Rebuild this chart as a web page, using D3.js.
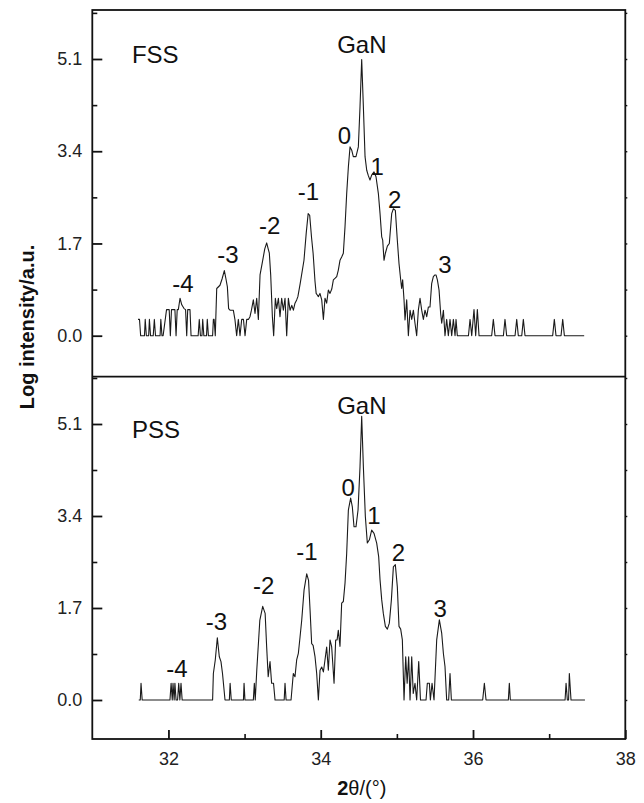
<html>
<head>
<script src="https://d3js.org/d3.v7.min.js"></script>
<style>
	body {margin: 0; background: #fff;}
	svg {display: block;}
</style>
</head>
<body>
<div id="chart"></div>
<script>
// FSS scan: [2theta, log intensity]
var fss = [[31.60,0.30],[31.62,0.30],[31.635,0],[31.685,0],[31.695,0.30],[31.71,0],[31.74,0],[31.75,0.30],[31.765,0],
	[31.80,0],[31.815,0.30],[31.83,0],[31.89,0],[31.90,0.30],[31.915,0],[31.93,0],[31.975,0.48],[32.01,0.48],[32.025,0],
	[32.04,0.48],[32.085,0.48],[32.10,0],[32.115,0.48],[32.13,0.48],[32.152,0.69],[32.175,0.57],[32.205,0.50],[32.225,0.48],
	[32.24,0],[32.253,0.48],[32.283,0.48],[32.297,0],[32.39,0],[32.405,0.30],[32.42,0],[32.44,0],[32.45,0.30],[32.465,0],
	[32.50,0],[32.51,0.30],[32.525,0],[32.58,0],[32.59,0.30],[32.60,0.30],[32.615,0],[32.634,0.87],[32.677,0.93],[32.705,1.05],
	[32.734,1.20],[32.755,1.05],[32.774,0.90],[32.79,0.50],[32.809,0.47],[32.852,0.47],[32.874,0.29],[32.896,0],[32.918,0.30],
	[32.94,0],[32.962,0.30],[32.985,0.30],[33.006,0],[33.028,0.30],[33.05,0.30],[33.071,0.35],[33.09,0.47],[33.115,0.66],
	[33.137,0.41],[33.159,0.69],[33.181,0.30],[33.203,1.12],[33.238,1.39],[33.265,1.60],[33.29,1.71],[33.31,1.60],[33.325,1.52],
	[33.343,1.12],[33.365,0.35],[33.382,0],[33.404,0.69],[33.422,0.50],[33.444,0.69],[33.465,0.35],[33.487,0.69],[33.509,0.47],
	[33.531,0.69],[33.553,0],[33.575,0.69],[33.597,0.47],[33.62,0.56],[33.641,0.47],[33.662,0.60],[33.684,0.66],[33.70,0.72],
	[33.73,0.96],[33.78,1.39],[33.81,1.90],[33.835,2.25],[33.855,2.22],[33.88,1.80],[33.90,1.52],[33.925,1.00],[33.94,0.78],
	[33.955,0.75],[33.969,0.72],[33.99,0.78],[34.013,0.66],[34.035,0.30],[34.056,0.69],[34.078,0.60],[34.10,0.84],[34.122,0.78],
	[34.145,0.86],[34.166,1.03],[34.19,1.06],[34.21,1.09],[34.231,1.21],[34.253,1.39],[34.275,1.45],[34.297,1.52],[34.319,2.01],
	[34.341,2.62],[34.363,3.11],[34.385,3.48],[34.407,3.42],[34.428,3.30],[34.463,3.30],[34.494,3.48],[34.516,4.22],[34.538,5.09],
	[34.56,4.22],[34.582,3.30],[34.604,3.05],[34.625,2.95],[34.647,2.87],[34.669,2.96],[34.70,3.02],[34.726,2.93],[34.757,2.62],
	[34.779,2.25],[34.801,1.82],[34.814,1.76],[34.831,1.39],[34.849,1.52],[34.875,1.65],[34.901,1.70],[34.932,2.25],[34.954,2.34],
	[34.98,2.31],[35.006,1.76],[35.028,1.33],[35.05,1.03],[35.063,0.87],[35.076,1.03],[35.094,0.66],[35.107,0.29],[35.129,0.66],
	[35.151,0],[35.173,0.47],[35.195,0.30],[35.217,0.47],[35.238,0.23],[35.26,0],[35.282,0.47],[35.304,0.69],[35.326,0.47],
	[35.348,0.30],[35.37,0.47],[35.392,0.35],[35.414,0.53],[35.435,0.53],[35.457,0.96],[35.479,1.09],[35.50,1.12],[35.514,1.12],
	[35.532,1.03],[35.554,0.84],[35.575,0.41],[35.589,0.23],[35.611,0.47],[35.632,0],[35.654,0.30],[35.676,0],[35.698,0.30],
	[35.72,0],[35.742,0.30],[35.764,0],[35.777,0.30],[35.794,0],[35.94,0],[35.961,0.30],[35.983,0],[36.013,0.48],[36.035,0],
	[36.057,0.48],[36.079,0],[36.245,0],[36.267,0.30],[36.289,0],[36.399,0],[36.42,0.30],[36.442,0],[36.552,0],[36.574,0.30],
	[36.595,0],[36.64,0],[36.661,0.30],[36.683,0],[37.046,0],[37.068,0.30],[37.09,0],[37.156,0],[37.178,0.30],[37.20,0],[37.46,0]];

// PSS scan
var pss = [[31.61,0],[31.63,0],[31.64,0.31],[31.655,0],[32.02,0],[32.035,0.31],[32.05,0],[32.06,0.31],[32.075,0],[32.085,0.31],
	[32.10,0],[32.12,0],[32.135,0.31],[32.15,0],[32.165,0.31],[32.18,0],[32.58,0],[32.59,0.49],[32.615,0.74],[32.642,1.15],
	[32.668,0.80],[32.69,0.71],[32.71,0.49],[32.743,0],[32.80,0],[32.81,0.31],[32.825,0],[32.985,0],[32.993,0.31],[33.005,0],
	[33.115,0],[33.128,0.31],[33.14,0],[33.16,0.55],[33.20,1.47],[33.238,1.73],[33.27,1.60],[33.29,0.98],[33.31,0.43],
	[33.334,0.71],[33.355,0.31],[33.38,0.31],[33.40,0],[33.52,0],[33.531,0.31],[33.545,0],[33.61,0],[33.64,0.49],[33.662,0.43],
	[33.684,0.74],[33.706,0.86],[33.728,1.16],[33.75,1.47],[33.781,2.03],[33.816,2.33],[33.84,2.21],[33.86,1.66],[33.881,1.04],
	[33.90,1.01],[33.925,0.80],[33.947,0.49],[33.969,0],[33.991,0.55],[34.013,0.61],[34.035,0.52],[34.056,0.74],[34.078,0.98],
	[34.10,0.55],[34.122,1.11],[34.144,0.98],[34.175,0.31],[34.196,1.11],[34.215,1.11],[34.231,1.29],[34.253,0.99],[34.275,1.79],
	[34.297,1.82],[34.319,2.16],[34.341,2.71],[34.363,3.51],[34.393,3.73],[34.415,3.57],[34.437,3.20],[34.463,3.20],[34.49,3.51],
	[34.516,4.31],[34.538,5.24],[34.56,4.31],[34.586,3.39],[34.612,2.90],[34.639,2.96],[34.669,3.14],[34.70,3.08],[34.735,2.90],
	[34.761,2.65],[34.779,2.22],[34.801,1.85],[34.822,1.60],[34.849,1.36],[34.875,1.31],[34.901,1.42],[34.928,1.85],[34.954,2.46],
	[34.98,2.50],[35.006,2.09],[35.028,1.36],[35.05,1.31],[35.072,1.11],[35.094,0],[35.116,0.80],[35.135,0.31],[35.155,0.80],
	[35.173,0],[35.195,0.80],[35.215,0.12],[35.238,0.31],[35.26,0],[35.287,0.71],[35.31,0],[35.383,0],[35.40,0.31],[35.427,0.31],
	[35.44,0],[35.462,0.31],[35.488,0],[35.523,1.11],[35.558,1.48],[35.589,1.23],[35.611,0.86],[35.632,0.62],[35.654,0],[35.68,0],
	[35.698,0.49],[35.716,0],[36.127,0],[36.149,0.31],[36.171,0],[36.464,0],[36.477,0.31],[36.49,0],[37.209,0],[37.222,0.31],
	[37.239,0],[37.255,0],[37.265,0.49],[37.287,0],[37.47,0]];

// peak labels: text, 2theta, log intensity at label baseline
var fssLabels = [["GaN",34.54,5.21],["0",34.31,3.53],["1",34.74,2.96],["2",34.97,2.35],["-1",33.84,2.50],
	["-2",33.33,1.87],["-3",32.78,1.34],["-4",32.19,0.80],["3",35.63,1.15]];
var pssLabels = [["GaN",34.54,5.29],["0",34.36,3.77],["1",34.70,3.25],["2",35.02,2.56],["-1",33.82,2.59],
	["-2",33.25,1.96],["-3",32.63,1.30],["-4",32.11,0.43],["3",35.57,1.53]];

var yMajor = [0, 1.7, 3.4, 5.1];
var yMinor = [-0.85, 0.85, 2.55, 4.25, 5.95];
var xMajor = [32, 34, 36, 38];
var xMinor = [33, 35, 37];

var width = 644, height = 803;
var padL = 92.3, padR = 625.3, padT = 10, padMid = 376.7, padB = 739;
var font = "'Liberation Sans', Arial, sans-serif";

var svg = d3.select("#chart").append("svg")
	.attr("width", width)
	.attr("height", height)
	.style("font-family", font);

var x = d3.scaleLinear().domain([31, 38]).range([padL, padR]);
var yTop = d3.scaleLinear().domain([0, 5.1]).range([335.7, 59]);
var yBot = d3.scaleLinear().domain([0, 5.1]).range([700, 424]);

// frame and divider first, ticks go on top
svg.append("rect")
	.attr("x", padL).attr("y", padT)
	.attr("width", padR - padL).attr("height", padB - padT)
	.attr("fill", "none").attr("stroke", "#111").attr("stroke-width", 1.8);
svg.append("line")
	.attr("x1", padL).attr("x2", padR)
	.attr("y1", padMid).attr("y2", padMid)
	.attr("stroke", "#111").attr("stroke-width", 1.8);

function styleTicks(sel, w) {
	sel.select(".domain").remove();
	sel.selectAll(".tick line")
		.style("stroke", "#111")
		.style("stroke-width", w);
}

function panel(data, y, y0, y1, name, labels) {
	var g = svg.append("g");

	// keep minor ticks inside the panel
	var inPanel = function(v) { return y(v) > y0 + 1 && y(v) < y1 - 1; };

	// left axis, ticks pointing inward
	var ax = g.append("g")
		.attr("transform", "translate(" + padL + ",0)")
		.call(d3.axisLeft(y).tickValues(yMajor).tickSizeInner(-10).tickSizeOuter(0).tickPadding(10)
			.tickFormat(d3.format(".1f")));
	styleTicks(ax, 1.8);
	ax.selectAll("text").attr("font-size", 18).attr("font-family", font).attr("fill", "#222");

	var axm = g.append("g")
		.attr("transform", "translate(" + padL + ",0)")
		.call(d3.axisLeft(y).tickValues(yMinor.filter(inPanel)).tickSizeInner(-5).tickSizeOuter(0).tickFormat(""));
	styleTicks(axm, 1.6);

	// right axis, small outward ticks
	var ar = g.append("g")
		.attr("transform", "translate(" + padR + ",0)")
		.call(d3.axisRight(y).tickValues(yMajor.concat(yMinor).filter(inPanel)).tickSizeInner(2).tickSizeOuter(0).tickFormat(""));
	styleTicks(ar, 1.4);

	// scan line
	var line = d3.line()
		.x(function(d) { return x(d[0]); })
		.y(function(d) { return y(d[1]); });

	g.append("path")
		.datum(data)
		.attr("d", line)
		.attr("fill", "none")
		.attr("stroke", "#1a1a1a")
		.attr("stroke-width", 1.1)
		.attr("stroke-linejoin", "round");

	// sample name
	g.append("text")
		.attr("x", x(31.52))
		.attr("y", y(name[1]))
		.attr("font-size", 24)
		.attr("fill", "#111")
		.text(name[0]);

	// peak labels
	labels.forEach(function(l) {
		g.append("text")
			.attr("x", x(l[1]))
			.attr("y", y(l[2]))
			.attr("text-anchor", "middle")
			.attr("font-size", 24)
			.attr("fill", "#111")
			.text(l[0]);
	});
}

panel(fss, yTop, padT, padMid, ["FSS", 5.02], fssLabels);
panel(pss, yBot, padMid, padB, ["PSS", 4.84], pssLabels);

// bottom x axis
var axb = svg.append("g")
	.attr("transform", "translate(0," + padB + ")")
	.call(d3.axisBottom(x).tickValues(xMajor).tickSizeInner(-9).tickSizeOuter(0).tickPadding(13).tickFormat(d3.format("d")));
styleTicks(axb, 1.8);
axb.selectAll("text").attr("font-size", 18).attr("font-family", font).attr("fill", "#222");

var axbm = svg.append("g")
	.attr("transform", "translate(0," + padB + ")")
	.call(d3.axisBottom(x).tickValues(xMinor).tickSizeInner(-5).tickSizeOuter(0).tickFormat(""));
styleTicks(axbm, 1.6);

// axis titles
svg.append("text")
	.attr("transform", "translate(34,327) rotate(-90)")
	.attr("text-anchor", "middle")
	.attr("font-size", 20)
	.attr("font-weight", "bold")
	.attr("fill", "#111")
	.text("Log intensity/a.u.");

var xt = svg.append("text")
	.attr("x", (padL + padR) / 2 + 3)
	.attr("y", 795)
	.attr("text-anchor", "middle")
	.attr("font-size", 20)
	.attr("fill", "#111");
xt.append("tspan").attr("font-weight", "bold").text("2");
xt.append("tspan").text("\u03b8/(\u00b0)");
</script>
</body>
</html>
